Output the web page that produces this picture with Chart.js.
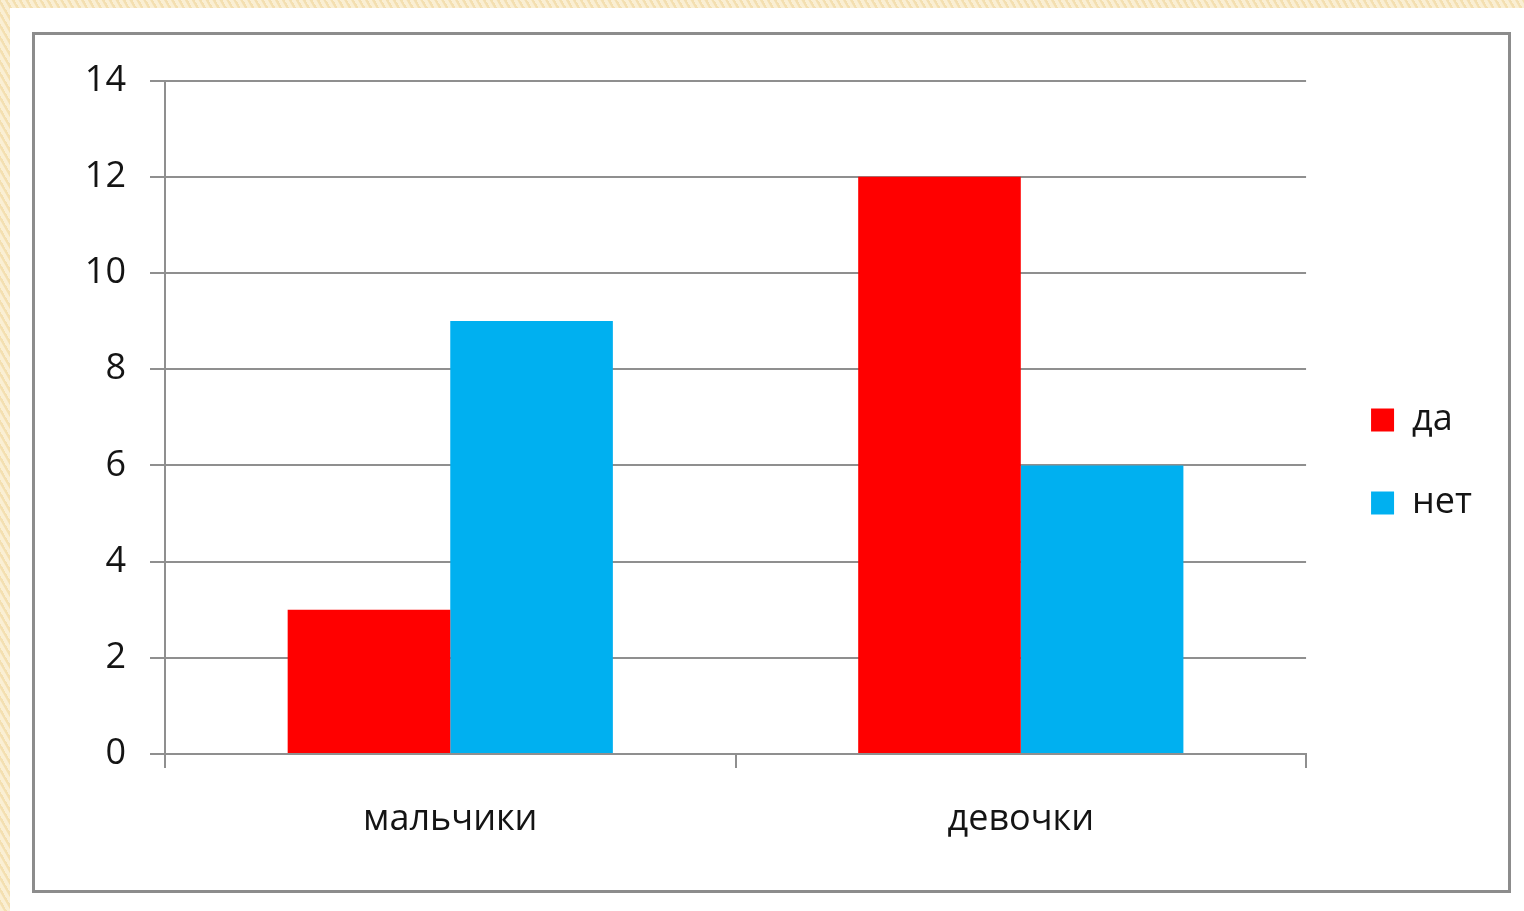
<!DOCTYPE html>
<html>
<head>
<meta charset="utf-8">
<script src="https://cdn.jsdelivr.net/npm/chart.js@4/dist/chart.umd.min.js"></script>
<style>
  html, body { margin: 0; padding: 0; width: 1524px; height: 911px; overflow: hidden; }
  body {
    background-color: #f8e7bd;
    background-image: repeating-linear-gradient(60deg, rgba(255,255,255,0.35) 0px, rgba(255,255,255,0.35) 3px, rgba(230,200,140,0.25) 4px, rgba(230,200,140,0.25) 6px);
    position: relative;
  }
  #panel { position: absolute; left: 10px; top: 8px; width: 1514px; height: 903px; background: #ffffff; }
  #frame { position: absolute; left: 32px; top: 32px; width: 1473px; height: 855px; border: 3px solid #8c8c8c; background: #fff; }
  #wrap { position: absolute; left: 0; top: 0; width: 1473px; height: 855px; }
</style>
</head>
<body>
<div id="panel"></div>
<div id="frame"><div id="wrap"><canvas id="c"></canvas></div></div>
<script>
const categories = ['мальчики', 'девочки'];
const seriesNames = ['да', 'нет'];
const valuesDa = [3, 12];
const valuesNet = [9, 6];
const yTicks = [0, 2, 4, 6, 8, 10, 12, 14];

const FONT = '"Open Sans", "Noto Sans", sans-serif';
const GRID = '#8f8f8f';
const TEXT = '#141414';

const legendShift = {
  id: 'legendShift',
  afterLayout(chart) {
    if (chart.legend) { chart.legend.left += 18; chart.legend.right += 18; }
  }
};

new Chart(document.getElementById('c'), {
  type: 'bar',
  data: {
    labels: categories,
    datasets: [
      { label: seriesNames[0], data: valuesDa, backgroundColor: '#ff0000', borderWidth: 0 },
      { label: seriesNames[1], data: valuesNet, backgroundColor: '#00b0f0', borderWidth: 0 }
    ]
  },
  options: {
    responsive: true,
    maintainAspectRatio: false,
    animation: false,
    layout: { padding: { top: 41, bottom: 43, left: 0, right: 44 } },
    datasets: { bar: { categoryPercentage: 0.57, barPercentage: 1.0 } },
    plugins: {
      tooltip: { enabled: false },
      legend: {
        position: 'right',
        align: 'center',
        labels: {
          boxWidth: 23, boxHeight: 23, padding: 47,
          color: TEXT,
          font: { family: FONT, size: 36 }
        }
      }
    },
    scales: {
      x: {
        grid: { display: true, drawOnChartArea: false, drawTicks: true, tickLength: 14, color: GRID, lineWidth: 2, offset: true },
        border: { display: true, color: GRID, width: 2 },
        ticks: { color: TEXT, font: { family: FONT, size: 36 }, padding: 30 },
        afterFit(scale) { scale.height = 93; }
      },
      y: {
        min: 0, max: 14,
        afterBuildTicks(scale) { scale.ticks = yTicks.map(v => ({ value: v })); },
        grid: { color: GRID, lineWidth: 2, tickLength: 15, drawTicks: true },
        border: { display: true, color: GRID, width: 2 },
        ticks: { color: TEXT, font: { family: FONT, size: 36 }, padding: 24 },
        afterFit(scale) { scale.width = 130; }
      }
    }
  },
  plugins: [legendShift]
});
</script>
</body>
</html>
